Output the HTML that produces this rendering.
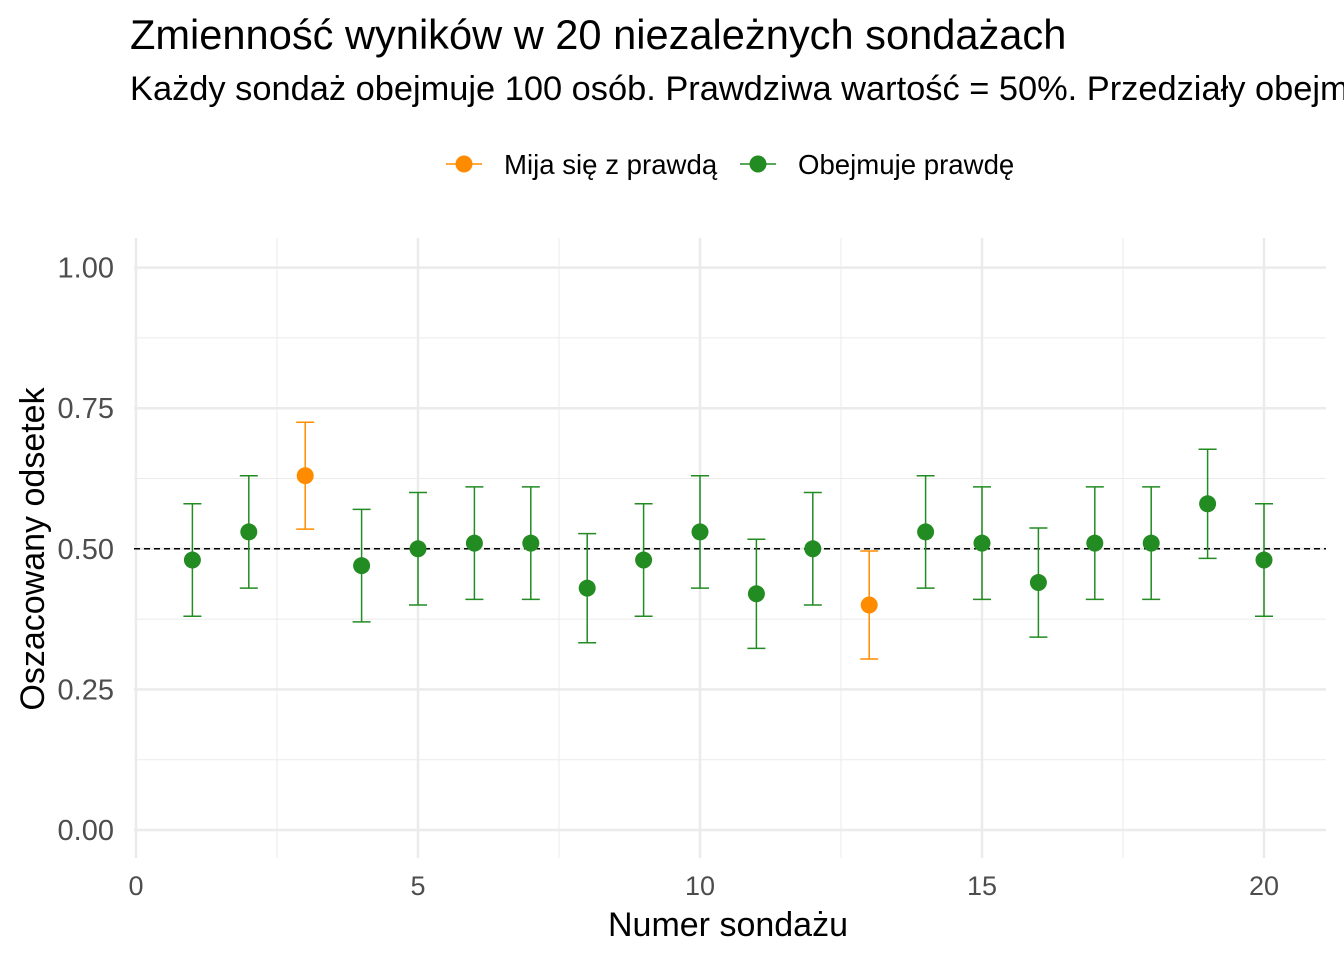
<!DOCTYPE html>
<html><head><meta charset="utf-8"><style>
body{margin:0;background:#fff;overflow:hidden}
svg{font-family:"Liberation Sans",sans-serif}
</style></head><body>
<svg id="chart" width="1344" height="960" xmlns="http://www.w3.org/2000/svg">
<text x="130" y="49" font-size="41.6" fill="#000">Zmienność wyników w 20 niezależnych sondażach</text>
<text x="130" y="100" font-size="34.4" fill="#000">Każdy sondaż obejmuje 100 osób. Prawdziwa wartość = 50%. Przedziały obejmują 95% ufności.</text>
<g>
<g>
<line x1="446" y1="164" x2="482" y2="164" stroke="#FF8C00" stroke-width="1.5"/>
<circle cx="464" cy="164" r="8.5" fill="#FF8C00"/>
<text x="504" y="174" font-size="27.6">Mija się z prawdą</text></g>
<g>
<line x1="740" y1="164" x2="776" y2="164" stroke="#228B22" stroke-width="1.5"/>
<circle cx="758" cy="164" r="8.5" fill="#228B22"/>
<text x="798" y="174" font-size="27.6">Obejmuje prawdę</text></g>
</g>
<g id="grid"></g>
<g id="marks"></g>
<text transform="translate(44,549) rotate(-90)" text-anchor="middle" font-size="34">Oszacowany odsetek</text>
<text x="728" y="936" text-anchor="middle" font-size="34">Numer sondażu</text>
</svg>
<script>
const polls=[1,2,3,4,5,6,7,8,9,10,11,12,13,14,15,16,17,18,19,20];
const estimates=[0.48,0.53,0.63,0.47,0.50,0.51,0.51,0.43,0.48,0.53,0.42,0.50,0.40,0.53,0.51,0.44,0.51,0.51,0.58,0.48];
const lows=[0.38,0.43,0.535,0.37,0.40,0.41,0.41,0.333,0.38,0.43,0.323,0.40,0.304,0.43,0.41,0.343,0.41,0.41,0.483,0.38];
const highs=[0.58,0.63,0.725,0.57,0.60,0.61,0.61,0.527,0.58,0.63,0.517,0.60,0.496,0.63,0.61,0.537,0.61,0.61,0.677,0.58];
const misses=[false,false,true,false,false,false,false,false,false,false,false,false,true,false,false,false,false,false,false,false];
const xTicks=[0,5,10,15,20];
const yTicks=[0,0.25,0.5,0.75,1];
const yTickLabels=["0.00","0.25","0.50","0.75","1.00"];
const trueValue=0.5;
const X=v=>136+v*56.4, Y=v=>830-v*562.4;
const NS="http://www.w3.org/2000/svg";
function mk(p,t,a){const e=document.createElementNS(NS,t);for(const k in a)e.setAttribute(k,a[k]);p.appendChild(e);return e;}
const g=document.getElementById('grid'), m=document.getElementById('marks');
const L=134,R=1326,T=238,B=858;
for(let i=0;i<xTicks.length-1;i++){const v=(xTicks[i]+xTicks[i+1])/2;const l=mk(g,'line',{x1:X(v),x2:X(v),y1:T,y2:B,stroke:'#EBEBEB','stroke-width':1});
}
for(let i=0;i<yTicks.length-1;i++){const v=(yTicks[i]+yTicks[i+1])/2;const l=mk(g,'line',{x1:L,x2:R,y1:Y(v),y2:Y(v),stroke:'#EBEBEB','stroke-width':1});
}
xTicks.forEach(v=>{const l=mk(g,'line',{x1:X(v),x2:X(v),y1:T,y2:B,stroke:'#EBEBEB','stroke-width':2.5});

const t=mk(g,'text',{x:X(v),y:895,'text-anchor':'middle','font-size':27,fill:'#4D4D4D'});t.textContent=v;
});
yTicks.forEach((v,i)=>{const l=mk(g,'line',{x1:L,x2:R,y1:Y(v),y2:Y(v),stroke:'#EBEBEB','stroke-width':2.5});

const t=mk(g,'text',{x:114,y:Y(v)+10,'text-anchor':'end','font-size':29,fill:'#4D4D4D'});t.textContent=yTickLabels[i];
});
const ref=mk(m,'line',{x1:L,x2:R,y1:Y(trueValue),y2:Y(trueValue),stroke:'#000','stroke-width':1.5,'stroke-dasharray':'6,4'});

polls.forEach((p,i)=>{const c=misses[i]?'#FF8C00':'#228B22';const x=X(p);
const eb=mk(m,'path',{d:`M${x-9},${Y(highs[i])}H${x+9}M${x},${Y(highs[i])}V${Y(lows[i])}M${x-9},${Y(lows[i])}H${x+9}`,stroke:c,'stroke-width':1.5,fill:'none'});

const pt=mk(m,'circle',{cx:x,cy:Y(estimates[i]),r:8.5,fill:c});
});
</script>
</body></html>
